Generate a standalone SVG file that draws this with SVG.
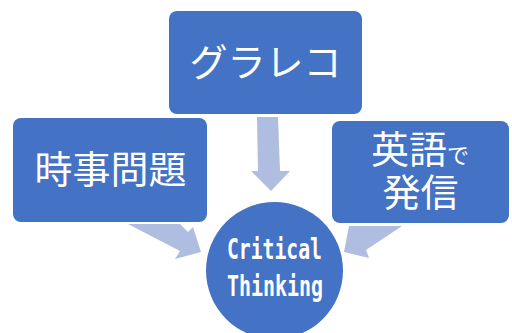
<svg xmlns="http://www.w3.org/2000/svg" width="512" height="333" viewBox="0 0 512 333">
<style>
.box{fill:#4472C4;}
.arr{fill:#AFBDE0;}
.jp{font-family:"Noto Sans CJK JP","Noto Sans CJK SC",sans-serif;fill:#fff;font-size:38px;}
.en{font-family:"DejaVu Sans Mono","Liberation Mono",monospace;font-weight:bold;fill:#fff;font-size:28.5px;}
</style>
<rect width="512" height="333" fill="#fff"/>
<g id="connectors">
<polygon class="arr" points="257,117 278,117 280,171 290,171 271,191 251,171 258,171"/>
<polygon class="arr" points="128,224 180,224 188,232 193,227 201,252 175,259 180,251"/>
<polygon class="arr" points="349,226 402,226 366,250 369,258 344,252"/>
</g>
<g id="n-gurareko">
<rect class="box" x="169" y="11" width="193" height="103" rx="8"/>
<text class="jp" x="265.5" y="76" text-anchor="middle" font-size="37">グラレコ</text>
</g>
<g id="n-jiji">
<rect class="box" x="13" y="118" width="194" height="104" rx="8"/>
<text class="jp" x="110.5" y="183" text-anchor="middle">時事問題</text>
</g>
<g id="n-eigo">
<rect class="box" x="332" y="121" width="177" height="102" rx="8"/>
<text class="jp" x="371" y="163">英語<tspan font-size="22">で</tspan></text>
<text class="jp" x="420.5" y="206" text-anchor="middle">発信</text>
</g>
<g id="n-critical">
<circle class="box" cx="274.5" cy="270.5" r="68.5"/>
<text class="en" x="227" y="259" textLength="95" lengthAdjust="spacingAndGlyphs">Critical</text>
<text class="en" x="227" y="296" textLength="96" lengthAdjust="spacingAndGlyphs">Thinking</text>
</g>
</svg>
